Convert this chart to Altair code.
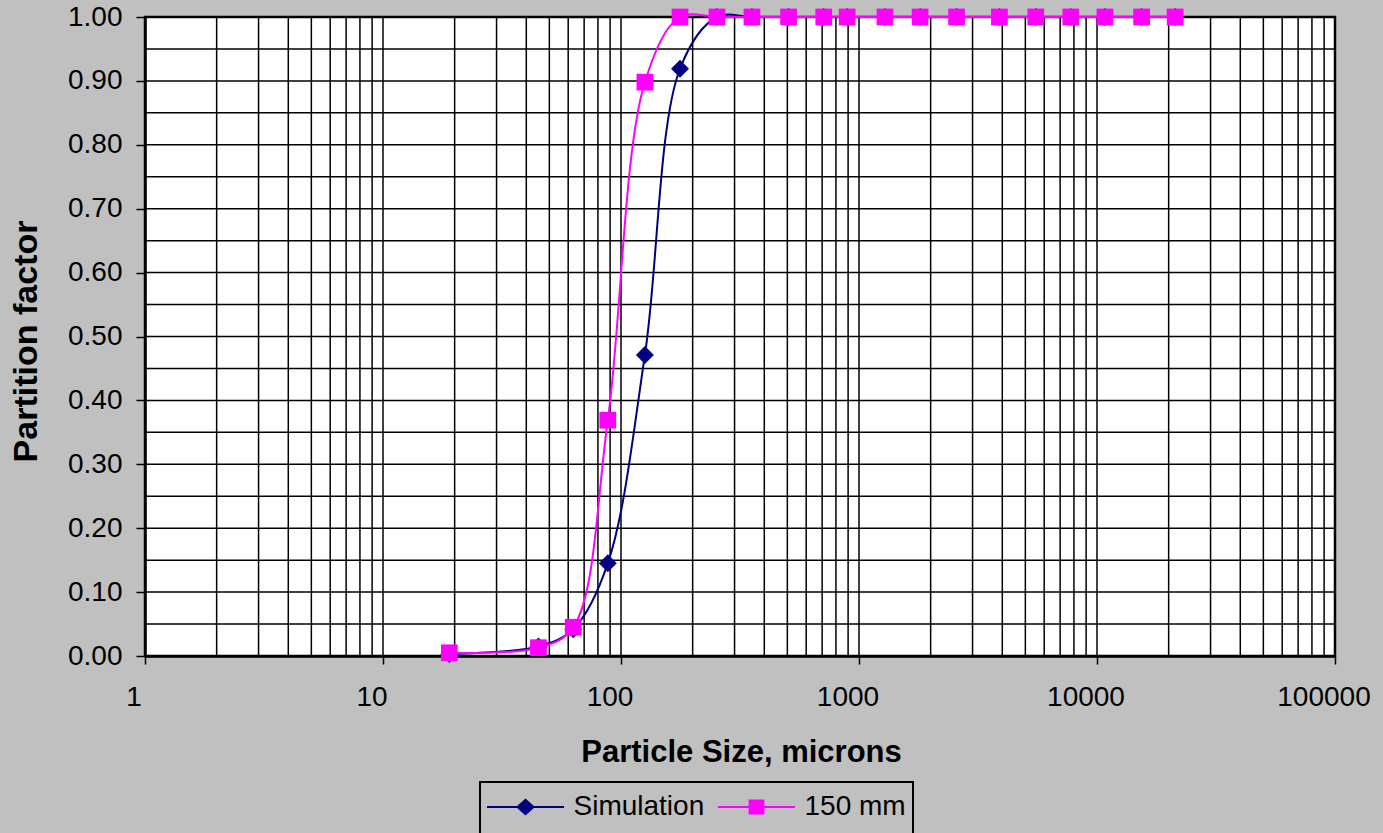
import altair as alt
import pandas as pd

# ---- data ----
sizes = [19, 45, 63, 88, 126, 177, 253, 355, 506, 711, 892, 1286, 1806,
         2570, 3890, 5530, 7760, 10800, 15400, 21300]
simulation = [0.003, 0.015, 0.042, 0.145, 0.471, 0.919, 1.0, 1.0, 1.0, 1.0,
              1.0, 1.0, 1.0, 1.0, 1.0, 1.0, 1.0, 1.0, 1.0, 1.0]
mm150 = [0.005, 0.013, 0.045, 0.369, 0.898, 1.0, 1.0, 1.0, 1.0, 1.0,
         1.0, 1.0, 1.0, 1.0, 1.0, 1.0, 1.0, 1.0, 1.0, 1.0]

series_names = ["Simulation", "150 mm"]
series_colors = ["#000080", "#FF00FF"]
series_shapes = ["diamond", "square"]

x_ticks = [1, 10, 100, 1000, 10000, 100000]
x_tick_labels = ["1", "10", "100", "1000", "10000", "100000"]
y_ticks = [0.0, 0.1, 0.2, 0.3, 0.4, 0.5, 0.6, 0.7, 0.8, 0.9, 1.0]
grid_y = [0.05, 0.10, 0.15, 0.20, 0.25, 0.30, 0.35, 0.40, 0.45, 0.50,
          0.55, 0.60, 0.65, 0.70, 0.75, 0.80, 0.85, 0.90, 0.95]
grid_x = [m * 10 ** k for k in range(5) for m in range(1, 10) if not (k == 0 and m == 1)]

# legend symbols: line segment + marker (the last empty subpath only enlarges the legend frame downward)
legend_paths = [
    "M-2.14,-0.06H2.14V0.06H-2.14Z M0,-0.47L0.53,0L0,0.47L-0.53,0Z M0,2L0,2",
    "M-2.14,-0.06H2.14V0.06H-2.14Z M-0.44,-0.42H0.44V0.42H-0.44Z M0,2L0,2",
]

rows = []
for name, vals in zip(series_names, [simulation, mm150]):
    for s, v in zip(sizes, vals):
        rows.append({"size": s, "pf": v, "series": name})
df = pd.DataFrame(rows)

FONT = "Liberation Sans"

x_enc = alt.X(
    "size:Q",
    scale=alt.Scale(type="log", domain=[1, 100000], nice=False),
    axis=alt.Axis(
        values=x_ticks, labels=False, title="Particle Size, microns", grid=False,
        tickSize=8,
        titleX=596, titleY=96, titleBaseline="middle", titleAlign="center",
        titleFontSize=31,
    ),
)
y_enc = alt.Y(
    "pf:Q",
    scale=alt.Scale(domain=[0, 1], nice=False, zero=True),
    axis=alt.Axis(
        values=y_ticks, format=".2f", title="Partition factor", grid=False,
        tickSize=9, labelPadding=14, labelFlush=False,
        titleX=-119, titleY=324, titleAngle=270, titleBaseline="middle",
        titleAlign="center", titleFontSize=34,
    ),
)

hgrid = alt.Chart(pd.DataFrame({"pf": grid_y})).mark_rule(
    color="black", strokeWidth=1.5
).encode(y=y_enc)
vgrid = alt.Chart(pd.DataFrame({"size": grid_x})).mark_rule(
    color="black", strokeWidth=1.5
).encode(x=x_enc)

# x tick labels (Excel places them slightly left of the tick)
xlabels = alt.Chart(pd.DataFrame({"size": x_ticks, "lab": x_tick_labels})).mark_text(
    dx=-11, baseline="top", align="center", fontSize=28, font=FONT, color="black"
).encode(x=x_enc, y=alt.value(667), text="lab:N")

layers = [hgrid, vgrid, xlabels]
base = alt.Chart(df)
for name, colr, shp in zip(series_names, series_colors, series_shapes):
    sub = base.transform_filter(alt.datum.series == name)
    layers.append(
        sub.mark_line(interpolate="catmull-rom", strokeWidth=2, color=colr).encode(x=x_enc, y=y_enc)
    )
    layers.append(
        sub.mark_point(shape=shp, filled=True, size=324 if shp == "diamond" else 280,
                       color=colr, opacity=1).encode(x=x_enc, y=y_enc)
    )

leg = alt.Legend(
    title=None, orient="none", legendX=335, legendY=765, direction="horizontal",
    symbolSize=1296, symbolStrokeWidth=0, symbolOffset=20.5, labelOffset=30,
    labelFontSize=28, labelFont=FONT, labelColor="black", columnPadding=12,
    padding=7, strokeColor="black", fillColor="#C0C0C0", cornerRadius=0,
    labelLimit=400, symbolOpacity=1,
)
legend_layer = base.transform_filter("false").mark_point(filled=True, opacity=1).encode(
    x=x_enc, y=y_enc,
    color=alt.Color("series:N", scale=alt.Scale(domain=series_names, range=series_colors), legend=leg),
    shape=alt.Shape("series:N", scale=alt.Scale(domain=series_names, range=legend_paths), legend=leg),
)
layers.append(legend_layer)

chart = alt.layer(*layers).properties(
    width=1190, height=639,
    autosize=alt.AutoSizeParams(type="none"),
    padding={"left": 145, "top": 17, "right": 48, "bottom": 177},
    background="#C0C0C0",
).configure_view(
    stroke="black", strokeWidth=2.5, fill="white"
).configure_axis(
    labelFont=FONT, titleFont=FONT, labelColor="black", titleColor="black",
    tickColor="black", domainColor="black", domainWidth=2.5, tickWidth=1.5,
    labelFontSize=28, titleFontWeight="bold",
).configure_legend(
    strokeWidth=2
)

chart.save("out.html", embed_options={"renderer": "svg", "actions": False})
